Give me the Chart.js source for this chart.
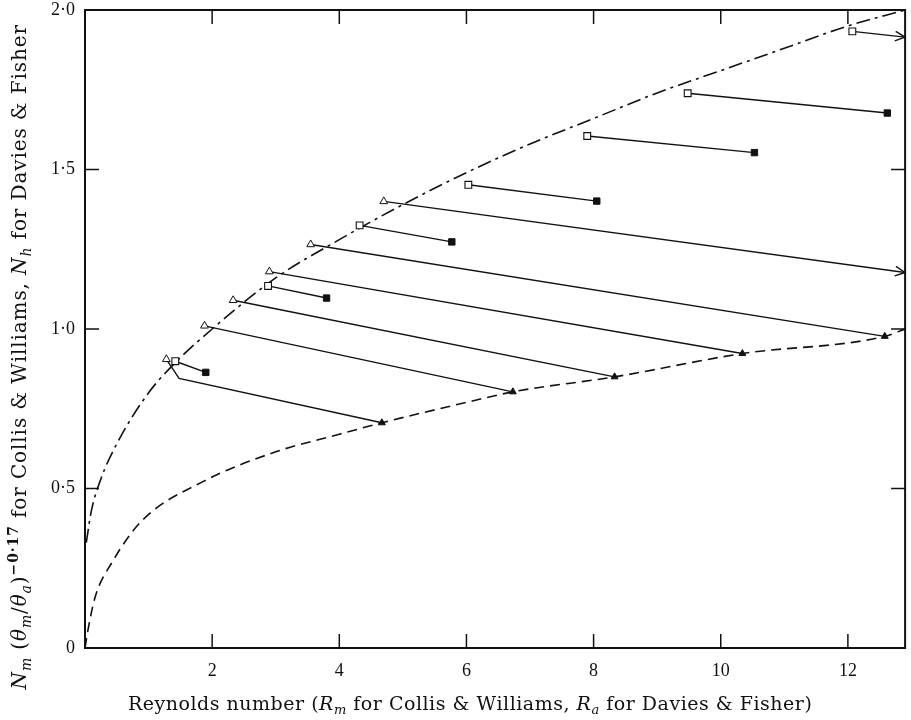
<!DOCTYPE html>
<html>
<head>
<meta charset="utf-8">
<script src="https://cdn.jsdelivr.net/npm/chart.js@4.4.1/dist/chart.umd.min.js"></script>
<style>
  html, body { margin: 0; padding: 0; background: #fff; }
  canvas { display: block; }
</style>
</head>
<body>
<canvas id="chart" width="911" height="720"></canvas>
<script>
// Upper curve (dash-dot) and lower curve (dashed)
const upperX = [0.02, 0.1, 0.25, 0.5, 1, 1.5, 2, 3, 4, 5, 6, 7, 8, 9, 10, 11, 12, 12.9];
const upperY = [0.33, 0.43, 0.53, 0.64, 0.80, 0.91, 1.00, 1.16, 1.28, 1.39, 1.49, 1.58, 1.66, 1.74, 1.81, 1.88, 1.95, 2.00];

const lowerX = [0, 0.05, 0.16, 0.43, 0.9, 1.84, 3, 4, 4.67, 6, 6.73, 8.33, 10.34, 12.58, 12.9];
const lowerY = [0, 0.06, 0.16, 0.27, 0.40, 0.52, 0.615, 0.67, 0.706, 0.77, 0.803, 0.85, 0.923, 0.977, 1.0];

// Open triangles -> filled triangles (last one runs off the scale: arrow)
const triFromX = [1.28, 1.88, 2.33, 2.90, 3.55, 4.70];
const triFromY = [0.905, 1.01, 1.09, 1.18, 1.265, 1.40];
const triBendX = [1.48, null, null, null, null, null];
const triBendY = [0.845, null, null, null, null, null];
const triToX = [4.67, 6.73, 8.33, 10.34, 12.58, 12.9];
const triToY = [0.706, 0.803, 0.850, 0.923, 0.977, 1.177];
const triArrow = [false, false, false, false, false, true];

// Open squares -> filled squares (last one runs off the scale: arrow)
const sqFromX = [1.42, 2.88, 4.32, 6.03, 7.90, 9.48, 12.07];
const sqFromY = [0.899, 1.135, 1.325, 1.452, 1.605, 1.739, 1.933];
const sqToX = [1.90, 3.80, 5.77, 8.05, 10.53, 12.62, 12.9];
const sqToY = [0.864, 1.097, 1.273, 1.401, 1.553, 1.677, 1.915];
const sqArrow = [false, false, false, false, false, false, true];

const xTitle = [
    ['Reynolds number (', 'n'], ['R', 'i'], ['m', 'sub'], [' for Collis & Williams, ', 'n'],
    ['R', 'i'], ['a', 'sub'], [' for Davies & Fisher)', 'n']
];
const yTitle = [
    ['N', 'i'], ['m', 'sub'], [' (', 'n'], ['θ', 'i'], ['m', 'sub'], ['/', 'n'], ['θ', 'i'], ['a', 'sub'],
    [')', 'n'], ['−0·17', 'sup'], [' for Collis & Williams, ', 'n'], ['N', 'i'], ['h', 'sub'],
    [' for Davies & Fisher', 'n']
];

const INK = '#111';
const pts = (xs, ys) => xs.map((x, i) => ({ x: x, y: ys[i] }));

const datasets = [];

// markers on top
datasets.push({
    data: pts(triFromX, triFromY), pointStyle: 'triangle', pointRadius: 4.5,
    backgroundColor: '#fff', borderColor: INK, borderWidth: 1, order: 0
});
datasets.push({
    data: pts(triToX, triToY).filter((_, i) => !triArrow[i]), pointStyle: 'triangle', pointRadius: 4,
    backgroundColor: INK, borderColor: INK, borderWidth: 1, order: 0
});
datasets.push({
    data: pts(sqFromX, sqFromY), pointStyle: 'rect', pointRadius: 4.8,
    backgroundColor: '#fff', borderColor: INK, borderWidth: 1.1, order: 0
});
datasets.push({
    data: pts(sqToX, sqToY).filter((_, i) => !sqArrow[i]), pointStyle: 'rect', pointRadius: 4.5,
    backgroundColor: INK, borderColor: INK, borderWidth: 1, order: 0
});

// connecting lines
triFromX.forEach((x, i) => {
    const d = [{ x: x, y: triFromY[i] }];
    if (triBendX[i] !== null) d.push({ x: triBendX[i], y: triBendY[i] });
    d.push({ x: triToX[i], y: triToY[i] });
    datasets.push({ data: d, showLine: true, pointRadius: 0, borderColor: INK, borderWidth: 1.4, arrow: triArrow[i], order: 1 });
});
sqFromX.forEach((x, i) => {
    datasets.push({
        data: [{ x: x, y: sqFromY[i] }, { x: sqToX[i], y: sqToY[i] }],
        showLine: true, pointRadius: 0, borderColor: INK, borderWidth: 1.4, arrow: sqArrow[i], order: 1
    });
});

// the two curves
datasets.push({
    data: pts(upperX, upperY), showLine: true, pointRadius: 0, borderColor: INK, borderWidth: 1.6,
    borderDash: [14, 5, 3, 5], cubicInterpolationMode: 'monotone', order: 2
});
datasets.push({
    data: pts(lowerX, lowerY), showLine: true, pointRadius: 0, borderColor: INK, borderWidth: 1.6,
    borderDash: [10, 6], cubicInterpolationMode: 'monotone', order: 2
});

// frame, inward ticks and arrow heads
const frameTicks = {
    id: 'frameTicks',
    afterDraw(chart) {
        const { ctx, chartArea: a, scales: { x, y } } = chart;
        const line = (x1, y1, x2, y2) => { ctx.beginPath(); ctx.moveTo(x1, y1); ctx.lineTo(x2, y2); ctx.stroke(); };
        ctx.save();
        ctx.strokeStyle = INK;
        ctx.lineWidth = 2;
        ctx.strokeRect(a.left, a.top, a.right - a.left, a.bottom - a.top);
        ctx.lineWidth = 1.5;
        x.ticks.forEach(t => {
            if (t.value <= 0) return;
            const px = x.getPixelForValue(t.value);
            line(px, a.bottom, px, a.bottom - 14);
            line(px, a.top, px, a.top + 14);
        });
        y.ticks.forEach(t => {
            if (t.value <= 0 || t.value >= 2) return;
            const py = y.getPixelForValue(t.value);
            line(a.left, py, a.left + 14, py);
            line(a.right, py, a.right - 14, py);
        });
        ctx.lineWidth = 1.4;
        chart.data.datasets.forEach((ds, i) => {
            if (!ds.arrow) return;
            const el = chart.getDatasetMeta(i).data;
            const p = el[el.length - 1], q = el[el.length - 2];
            const ang = Math.atan2(p.y - q.y, p.x - q.x);
            [0.45, -0.45].forEach(da => line(p.x, p.y, p.x - 11 * Math.cos(ang + da), p.y - 11 * Math.sin(ang + da)));
        });
        ctx.restore();
    }
};

// axis titles with italic letters and subscripts, spread to a given width
function drawRuns(ctx, runs, cx, cy, size, family, width) {
    const fontFor = (kind) => {
        const s = (kind === 'sub' || kind === 'sup') ? Math.round(size * 0.68) : size;
        const st = (kind === 'i' || kind === 'sub') ? 'italic ' : '';
        const wt = kind === 'sup' ? 'bold ' : '';
        return st + wt + s + 'px ' + family;
    };
    let total = 0, chars = 0;
    runs.forEach(r => { ctx.font = fontFor(r[1]); total += ctx.measureText(r[0]).width; chars += r[0].length; });
    const gap = Math.max(0, (width - total) / chars);
    let cur = cx - (total + gap * chars) / 2;
    ctx.textBaseline = 'middle';
    ctx.textAlign = 'left';
    runs.forEach(r => {
        ctx.font = fontFor(r[1]);
        const dy = r[1] === 'sub' ? size * 0.3 : r[1] === 'sup' ? -size * 0.35 : 0;
        for (const ch of r[0]) {
            ctx.fillText(ch, cur, cy + dy);
            cur += ctx.measureText(ch).width + gap;
        }
    });
}

const titleFamily = '"DejaVu Serif", serif';

const axisTitles = {
    id: 'axisTitles',
    afterDraw(chart) {
        const ctx = chart.ctx;
        ctx.save();
        ctx.fillStyle = INK;
        drawRuns(ctx, xTitle, 470, 705, 19, titleFamily, 684);
        ctx.translate(21, 357);
        ctx.rotate(-Math.PI / 2);
        drawRuns(ctx, yTitle, 0, 0, 20, titleFamily, 665);
        ctx.restore();
    }
};

const tickFont = { family: '"Liberation Serif", serif', size: 18 };

new Chart(document.getElementById('chart'), {
    type: 'scatter',
    data: { datasets: datasets },
    options: {
        responsive: false,
        animation: false,
        layout: { padding: { top: 0, right: 2, left: 0, bottom: 0 } },
        plugins: { legend: { display: false }, tooltip: { enabled: false } },
        scales: {
            x: {
                type: 'linear', min: 0, max: 12.9,
                grid: { display: false, drawTicks: false },
                border: { display: false },
                ticks: {
                    stepSize: 2, includeBounds: false, padding: 12, color: INK, font: tickFont,
                    maxRotation: 0, callback: v => v === 0 ? '' : String(v)
                },
                afterFit: s => { s.height = 72; s.paddingLeft = 0; s.paddingRight = 0; }
            },
            y: {
                type: 'linear', min: 0, max: 2,
                grid: { display: false, drawTicks: false },
                border: { display: false },
                ticks: {
                    stepSize: 0.5, padding: 10, color: INK, font: tickFont,
                    callback: v => v === 0 ? '0' : v.toFixed(1).replace('.', '·')
                },
                afterFit: s => { s.width = 85; s.paddingTop = 10; s.paddingBottom = 0; }
            }
        }
    },
    plugins: [frameTicks, axisTitles]
});
</script>
</body>
</html>
